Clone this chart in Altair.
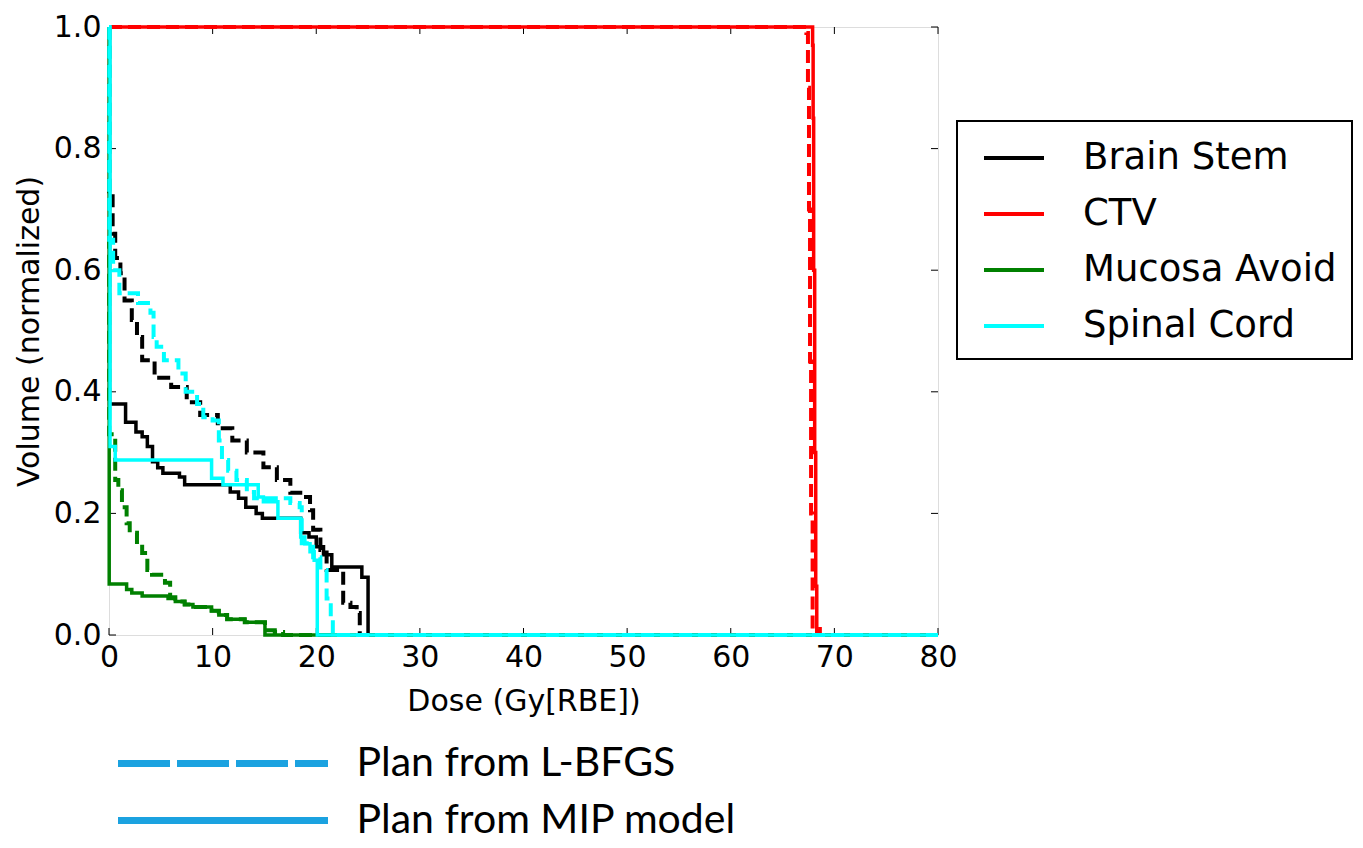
import altair as alt
import pandas as pd

structures = ["Brain Stem", "CTV", "Mucosa Avoid", "Spinal Cord"]
structure_colors = ["#000000", "#ff0000", "#008000", "#00ffff"]
plans = ["Plan from L-BFGS", "Plan from MIP model"]

x_ticks = [0, 10, 20, 30, 40, 50, 60, 70, 80]
y_ticks = [0.0, 0.2, 0.4, 0.6, 0.8, 1.0]

# Brain Stem
bs_lbfgs_dose = [0, 0.02, 0.35, 0.6, 1.1, 1.5, 2.2, 2.7, 3.2, 4.4, 6.0, 7.5, 8.8, 10.5, 11.9, 13.3,
                 14.9, 16.2, 17.5, 18.7, 19.4, 19.7, 20.4, 21.0, 22.6, 23.3, 23.9, 24.2, 80]
bs_lbfgs_vol = [1.0, 0.73, 0.66, 0.62, 0.595, 0.55, 0.518, 0.49, 0.452, 0.423, 0.408, 0.383, 0.362,
                0.34, 0.32, 0.3, 0.276, 0.255, 0.234, 0.227, 0.205, 0.173, 0.14, 0.107, 0.053, 0.046,
                0.036, 0.0, 0.0]
bs_mip_dose = [0, 0.05, 1.6, 2.6, 3.2, 3.7, 4.2, 4.7, 5.2, 6.8, 7.3, 11.7, 12.5, 13.2, 14.2, 14.8,
               18.5, 19.3, 20.0, 20.7, 21.5, 24.4, 25.0, 80]
bs_mip_vol = [1.0, 0.38, 0.35, 0.334, 0.326, 0.31, 0.285, 0.275, 0.266, 0.26, 0.247, 0.235, 0.225,
              0.21, 0.2, 0.192, 0.168, 0.161, 0.145, 0.132, 0.112, 0.095, 0.0, 0.0]

# CTV
ctv_lbfgs_dose = [0, 67.3, 67.45, 67.55, 67.65, 67.75, 67.9, 68.6, 80]
ctv_lbfgs_vol = [1.0, 0.99, 0.9, 0.7, 0.45, 0.2, 0.01, 0.0, 0.0]
ctv_mip_dose = [0, 67.9, 67.95, 68.0, 68.1, 68.2, 68.3, 80]
ctv_mip_vol = [1.0, 0.97, 0.85, 0.6, 0.3, 0.08, 0.0, 0.0]

# Mucosa Avoid
muc_lbfgs_dose = [0, 0.02, 0.6, 0.9, 1.25, 1.7, 2.0, 2.7, 3.2, 3.7, 4.15, 5.4, 5.9, 6.4, 7.3, 8.1,
                  9.9, 10.6, 11.4, 13.1, 15.05, 16.0, 16.8, 80]
muc_lbfgs_vol = [1.0, 0.33, 0.255, 0.238, 0.21, 0.184, 0.168, 0.145, 0.135, 0.107, 0.099, 0.086,
                 0.062, 0.055, 0.05, 0.046, 0.04, 0.033, 0.026, 0.021, 0.008, 0.005, 0.0, 0.0]
muc_mip_dose = [0, 0.02, 1.7, 2.2, 3.2, 5.7, 6.4, 7.3, 8.1, 9.9, 10.6, 11.4, 13.1, 15.05, 80]
muc_mip_vol = [1.0, 0.084, 0.075, 0.069, 0.064, 0.06, 0.055, 0.05, 0.046, 0.04, 0.033, 0.026,
               0.021, 0.0, 0.0]

# Spinal Cord
sc_lbfgs_dose = [0, 0.02, 0.4, 1.0, 2.8, 4.0, 4.3, 4.6, 5.3, 6.7, 7.4, 8.5, 9.1, 10.0, 10.6, 10.9,
                 11.5, 12.3, 13.3, 14.0, 17.5, 18.4, 18.6, 19.7, 20.4, 21.0, 21.4, 21.6, 80]
sc_lbfgs_vol = [1.0, 0.65, 0.6, 0.562, 0.546, 0.53, 0.49, 0.474, 0.452, 0.43, 0.4, 0.38, 0.358,
                0.353, 0.32, 0.288, 0.27, 0.255, 0.235, 0.225, 0.217, 0.21, 0.151, 0.128, 0.107,
                0.06, 0.03, 0.0, 0.0]
sc_mip_dose = [0, 0.1, 0.6, 9.9, 11.0, 14.4, 14.9, 16.3, 18.5, 18.9, 19.4, 19.8, 20.1, 80]
sc_mip_vol = [1.0, 0.31, 0.288, 0.258, 0.247, 0.227, 0.219, 0.192, 0.161, 0.15, 0.137, 0.123,
              0.0, 0.0]

series = [
    ("Brain Stem", True, bs_lbfgs_dose, bs_lbfgs_vol),
    ("Brain Stem", False, bs_mip_dose, bs_mip_vol),
    ("CTV", True, ctv_lbfgs_dose, ctv_lbfgs_vol),
    ("CTV", False, ctv_mip_dose, ctv_mip_vol),
    ("Mucosa Avoid", True, muc_lbfgs_dose, muc_lbfgs_vol),
    ("Mucosa Avoid", False, muc_mip_dose, muc_mip_vol),
    ("Spinal Cord", True, sc_lbfgs_dose, sc_lbfgs_vol),
    ("Spinal Cord", False, sc_mip_dose, sc_mip_vol),
]

W, H = 829, 608
FONT = "DejaVu Sans"

xscale = alt.Scale(domain=[0, 80], nice=False, zero=False)
yscale = alt.Scale(domain=[0, 1], nice=False)
xaxis = alt.Axis(values=x_ticks, format="d", title="Dose (Gy[RBE])", grid=False, domain=False,
                 ticks=False, labelFlush=False, labelFontSize=30, labelPadding=7,
                 titleFontSize=30, titlePadding=14, labelFont=FONT, titleFont=FONT,
                 labelColor="black", titleColor="black", titleFontWeight="normal")
yaxis = alt.Axis(values=y_ticks, format=".1f", title="Volume (normalized)", grid=False,
                 domain=False, ticks=False, labelFlush=False, labelFontSize=30, labelPadding=8,
                 titleFontSize=30, titlePadding=9, labelFont=FONT, titleFont=FONT,
                 labelColor="black", titleColor="black", titleFontWeight="normal")

color_legend = alt.Legend(orient="none", legendX=848, legendY=94, direction="vertical",
                          symbolType="M-0.5,0H2.5", symbolSize=1600, symbolStrokeWidth=4,
                          labelFont=FONT, labelFontSize=37, labelColor="black", labelOffset=67,
                          labelLimit=500, padding=15, rowPadding=16, strokeColor="black",
                          fillColor="white")

plan_legend = alt.Legend(orient="none", legendX=5.5, legendY=713, direction="vertical",
                         symbolType="M-1,0H9.5", symbolSize=1600, symbolStrokeWidth=7,
                         symbolStrokeColor="#1ba2e0", labelFont="Lato", labelFontSize=41,
                         labelColor="black", labelOffset=195, labelLimit=700, padding=0,
                         rowPadding=13)

layers = []

xt_df = pd.DataFrame({"dose": x_ticks})
yt_df = pd.DataFrame({"vol": y_ticks})
tick_x = alt.X("dose:Q", scale=xscale, axis=xaxis)
tick_y = alt.Y("vol:Q", scale=yscale, axis=yaxis)
layers.append(alt.Chart(xt_df).mark_rule(color="black", strokeWidth=1).encode(
    x=tick_x, y=alt.value(H), y2=alt.value(H - 7)))
layers.append(alt.Chart(xt_df).mark_rule(color="black", strokeWidth=1).encode(
    x=tick_x, y=alt.value(0), y2=alt.value(7)))
layers.append(alt.Chart(yt_df).mark_rule(color="black", strokeWidth=1).encode(
    y=tick_y, x=alt.value(0), x2=alt.value(7)))
layers.append(alt.Chart(yt_df).mark_rule(color="black", strokeWidth=1).encode(
    y=tick_y, x=alt.value(W), x2=alt.value(W - 7)))

for name, dashed, d, v in series:
    df = pd.DataFrame({"dose": d, "vol": v, "structure": name})
    if dashed:
        mk = alt.Chart(df).mark_line(interpolate="step-after", strokeWidth=4,
                                     strokeDash=[13, 6], strokeCap="butt")
    else:
        mk = alt.Chart(df).mark_line(interpolate="step-after", strokeWidth=3.5)
    layers.append(mk.encode(
        x=alt.X("dose:Q", scale=xscale, axis=xaxis),
        y=alt.Y("vol:Q", scale=yscale, axis=yaxis),
        color=alt.Color("structure:N", scale=alt.Scale(domain=structures, range=structure_colors),
                        legend=color_legend, title=None),
    ))

plan_df = pd.DataFrame({"plan": plans})
layers.append(alt.Chart(plan_df).mark_line(color="#1ba2e0", strokeWidth=7).encode(
    x=alt.value(0), y=alt.value(0),
    strokeDash=alt.StrokeDash("plan:N", scale=alt.Scale(domain=plans, range=[[52, 7], [1, 0]]),
                              legend=plan_legend, title=None),
))

chart = alt.layer(*layers).properties(
    width=W, height=H,
    autosize=alt.AutoSizeParams(type="none"),
    padding={"left": 101, "top": 19, "right": 417, "bottom": 205},
).configure_view(stroke="black", strokeWidth=2).configure(font=FONT).configure_legend(strokeWidth=2)

chart.save("out.html", embed_options={"renderer": "svg", "actions": False})
